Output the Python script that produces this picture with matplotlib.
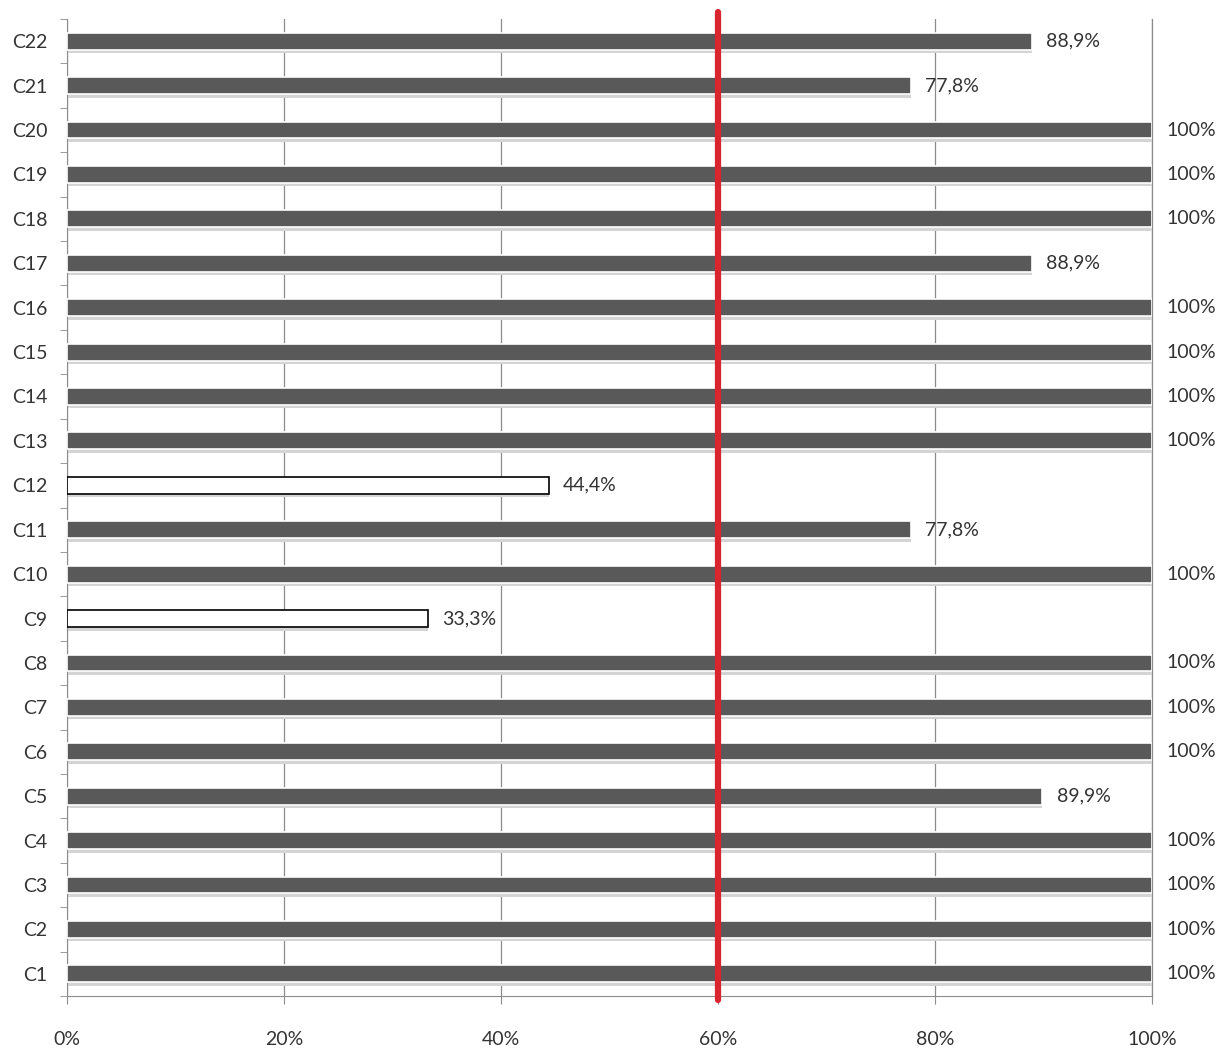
import numpy as np
import matplotlib.pyplot as plt
from matplotlib.ticker import FixedLocator

# taux de réussite par critère
criteres = ["C%d" % i for i in range(1, 23)]
taux = [100, 100, 100, 100, 89.9, 100, 100, 100, 33.3, 100, 77.8, 44.4,
        100, 100, 100, 100, 88.9, 100, 100, 100, 77.8, 88.9]
etiquettes = ["100%", "100%", "100%", "100%", "89,9%", "100%", "100%", "100%",
              "33,3%", "100%", "77,8%", "44,4%", "100%", "100%", "100%", "100%",
              "88,9%", "100%", "100%", "100%", "77,8%", "88,9%"]
seuil = 60

plt.rcParams['font.family'] = ['Lato', 'DejaVu Sans']

fig = plt.figure(figsize=(12.27, 10.49), dpi=100)
ax = fig.add_axes([0.0546, 0.0505, 0.8843, 0.9314])

y = np.arange(len(criteres))
h = 0.38
couleurs = ['white' if t < seuil else '#595959' for t in taux]
bords = ['black' if t < seuil else 'white' for t in taux]

# ombre sous les barres
ax.barh(y - 0.08, taux, height=h, color='#d4d4d4', edgecolor='none', zorder=2)
ax.barh(y, taux, height=h, color=couleurs, edgecolor=bords, linewidth=1.2, zorder=3)

for yi, t, lab in zip(y, taux, etiquettes):
    ax.text(t + 1.3, yi, lab, va='center', ha='left', fontsize=14, color='#333333')

# seuil à 60 %
ax.plot([seuil, seuil], [-0.6, 21.65], color='#d9262e', lw=4.5,
        solid_capstyle='round', zorder=5, clip_on=False)

ax.set_xlim(0, 100)
ax.set_ylim(-0.5, 21.5)
ax.set_xticks([0, 20, 40, 60, 80, 100])
ax.set_xticklabels(["0%", "20%", "40%", "60%", "80%", "100%"])
ax.grid(axis='x', color='#8c8c8c', lw=0.9, zorder=1)
ax.axvline(100, color='#8c8c8c', lw=0.9, zorder=1, clip_on=False)
ax.set_axisbelow(True)

ax.set_yticks(y)
ax.set_yticklabels(criteres)
ax.yaxis.set_minor_locator(FixedLocator(np.arange(-0.5, 22, 1)))
ax.tick_params(axis='y', which='major', length=0, pad=14, labelsize=14, labelcolor='#333333')
ax.tick_params(axis='y', which='minor', length=5, color='#8c8c8c')
ax.tick_params(axis='x', length=6, color='#8c8c8c', pad=19, labelsize=14, labelcolor='#333333')

for s in ['top', 'right']:
    ax.spines[s].set_visible(False)
for s in ['left', 'bottom']:
    ax.spines[s].set_color('#8c8c8c')

fig.savefig("out.png", dpi=100)
